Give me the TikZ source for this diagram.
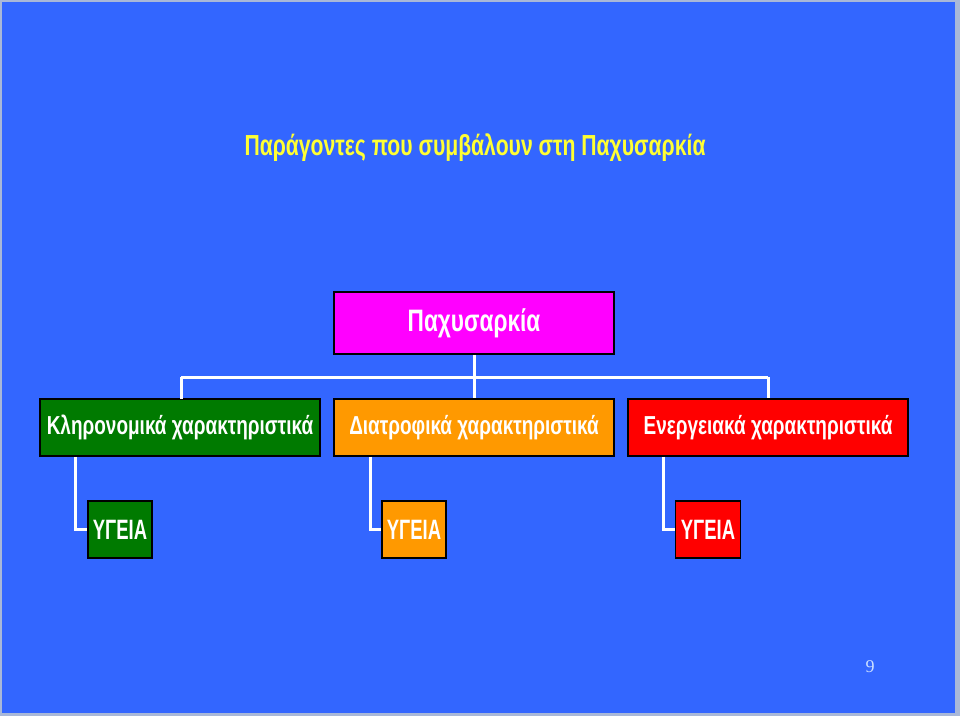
\documentclass[tikz,border=0pt]{standalone}
\usepackage{fontspec}
\setmainfont{Liberation Serif}
\newfontfamily\narrow[FakeStretch=0.73]{Liberation Sans}
\newfontfamily\healthfont[FakeStretch=0.66]{Liberation Sans}
\definecolor{bgblue}{HTML}{3366FF}
\definecolor{edge}{HTML}{A9B8D8}
\definecolor{titleyellow}{HTML}{FFFF33}
\definecolor{boxgreen}{HTML}{007A00}
\definecolor{boxorange}{HTML}{FF9900}
\definecolor{boxred}{HTML}{FF0000}
\definecolor{boxmagenta}{HTML}{FF00FF}
\definecolor{pagenum}{HTML}{CCE0FF}
\tikzset{
  box/.style={draw=black, line width=1.5pt, inner sep=0pt, text=white, font=\narrow\bfseries\fontsize{26}{30}\selectfont},
  hbox/.style={box, minimum width=64pt, minimum height=57pt, font=\healthfont\bfseries\fontsize{28}{32}\selectfont},
  link/.style={draw=white, line width=3pt}
}
\begin{document}
\begin{tikzpicture}[x=1pt,y=-1pt]
\useasboundingbox (0,0) rectangle (960,716);
\fill[edge] (0,0) rectangle (960,716);
\fill[bgblue] (2,2) rectangle (955,713);
\node[text=titleyellow, font=\narrow\bfseries\fontsize{29}{34}\selectfont] (title) at (475,148) {Παράγοντες που συμβάλουν στη Παχυσαρκία};
\node[box, fill=boxmagenta, minimum width=280pt, minimum height=62pt, font=\narrow\bfseries\fontsize{31}{36}\selectfont] (top) at (474,323) {Παχυσαρκία};
\node[box, fill=boxgreen, minimum width=280pt, minimum height=57pt] (g) at (180,427.5) {Κληρονομικά χαρακτηριστικά};
\node[box, fill=boxorange, minimum width=280pt, minimum height=57pt] (o) at (474,427.5) {Διατροφικά χαρακτηριστικά};
\node[box, fill=boxred, minimum width=280pt, minimum height=57pt] (r) at (768,427.5) {Ενεργειακά χαρακτηριστικά};
\node[hbox, fill=boxgreen] (g2) at (120,529.5) {ΥΓΕΙΑ};
\node[hbox, fill=boxorange] (o2) at (414,529.5) {ΥΓΕΙΑ};
\node[hbox, fill=boxred, minimum width=65pt] (r2) at (708,529.5) {ΥΓΕΙΑ};
\coordinate (bar) at (474,377);
% connectors
\draw[link] (top.south) -- (bar);
\draw[link] (181,377) -- (768,377);
\draw[link] (181,377) -- (181,399);
\draw[link] (bar) -- (o.north);
\draw[link] (768,377) -- (r.north);
\draw[link] ([xshift=-105pt]g.south) |- (g2.west);
\draw[link] ([xshift=-104pt]o.south) |- (o2.west);
\draw[link] ([xshift=-105pt]r.south) |- (r2.west);
\node[text=pagenum, font=\fontsize{18}{20}\selectfont] (pn) at (870,667) {9};
\end{tikzpicture}
\end{document}
